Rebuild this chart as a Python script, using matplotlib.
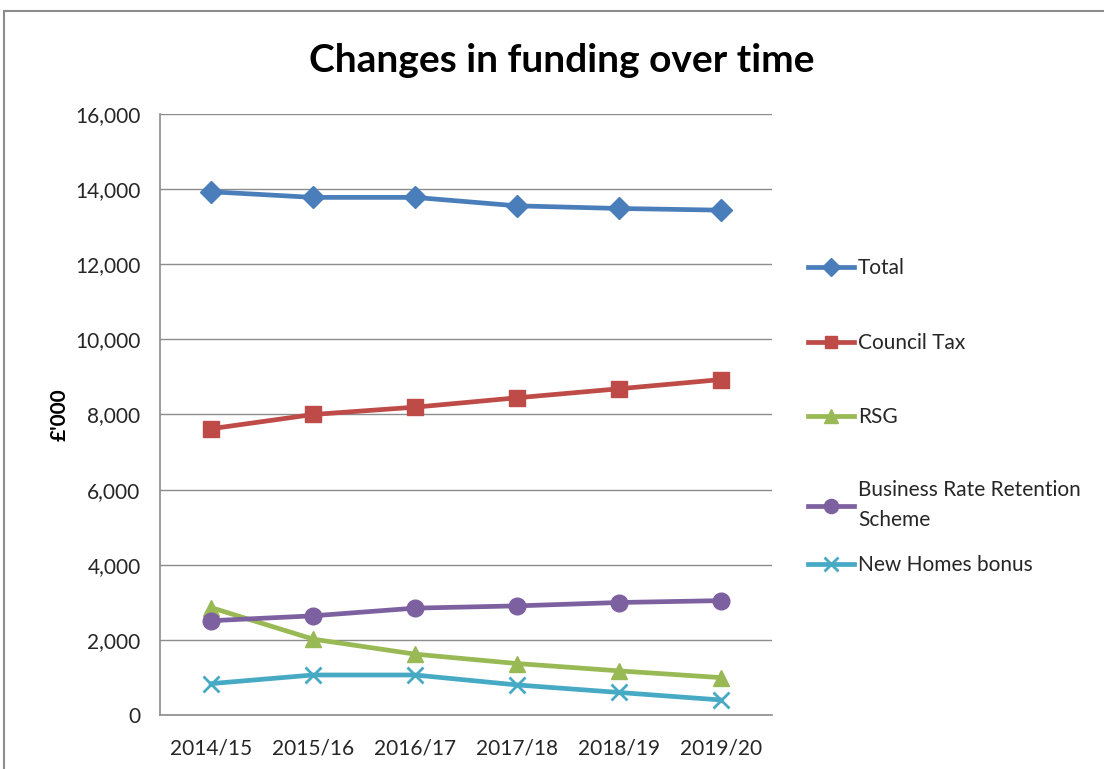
import matplotlib.pyplot as plt
from matplotlib.patches import Rectangle

years = ['2014/15', '2015/16', '2016/17', '2017/18', '2018/19', '2019/20']
total = [13930, 13780, 13780, 13555, 13485, 13440]
council_tax = [7620, 8000, 8195, 8445, 8685, 8930]
rsg = [2860, 2020, 1620, 1370, 1175, 995]
business_rates = [2510, 2640, 2845, 2905, 2995, 3045]
new_homes = [835, 1065, 1065, 800, 600, 400]

names = ['Total', 'Council Tax', 'RSG', 'Business Rate Retention\nScheme', 'New Homes bonus']
series = [total, council_tax, rsg, business_rates, new_homes]
colors = ['#4A7EBB', '#BE4B48', '#98B954', '#7D60A0', '#46AAC5']
markers = ['D', 's', '^', 'o', 'x']
msizes = [11, 11, 12, 12, 12]
legend_y = [268, 343, 417, 505, 565]

plt.rcParams['font.family'] = ['Lato', 'DejaVu Sans']
txt = '#262626'

fig = plt.figure(figsize=(11.04, 7.69), dpi=100)
fig.patches.append(Rectangle((4 / 1104, -0.1), 1.2, 1.1 - 11 / 769, transform=fig.transFigure,
                             fill=False, edgecolor='#8c8c8c', lw=1.5))
ax = fig.add_axes([160 / 1104, 1 - 715 / 769, 612 / 1104, 601 / 769])

x = list(range(len(years)))
handles = []
for vals, c, m, ms in zip(series, colors, markers, msizes):
    mew = 2 if m == 'x' else 1
    h, = ax.plot(x, vals, color=c, lw=3.4, marker=m, markersize=ms,
                 markeredgewidth=mew, markeredgecolor=c, markerfacecolor=c, zorder=3)
    handles.append(h)

ax.set_xlim(-0.5, len(years) - 0.5)
ax.set_ylim(0, 16000)
ax.set_yticks(range(0, 16001, 2000))
ax.set_yticklabels(['{:,}'.format(v) for v in range(0, 16001, 2000)])
ax.set_xticks(x)
ax.set_xticklabels(years)
ax.tick_params(axis='both', length=0, labelsize=15, colors=txt)
ax.tick_params(axis='x', pad=17)
ax.tick_params(axis='y', pad=14)
ax.grid(axis='y', color='#8c8c8c', lw=1)
ax.set_axisbelow(True)
for s in ['top', 'right']:
    ax.spines[s].set_visible(False)
for s in ['left', 'bottom']:
    ax.spines[s].set_color('#8c8c8c')
    ax.spines[s].set_linewidth(1.2)

ax.set_ylabel("£'000", fontsize=15, fontweight='bold', color='black', labelpad=4)
fig.text(562 / 1104, 1 - 60 / 769, 'Changes in funding over time', ha='center', va='center',
         fontsize=28, fontweight='bold', color='black')

# legend entries, one per series
for h, name, y in zip(handles, names, legend_y):
    leg = fig.legend([h], [name], loc='center left', bbox_to_anchor=(808 / 1104, 1 - y / 769),
                     frameon=False, fontsize=15, handlelength=2.2, handletextpad=0.2,
                     borderaxespad=0, borderpad=0, markerscale=0.85)
    for t in leg.get_texts():
        t.set_color(txt)
        t.set_linespacing(1.6)

fig.savefig('out.png', dpi=100)
